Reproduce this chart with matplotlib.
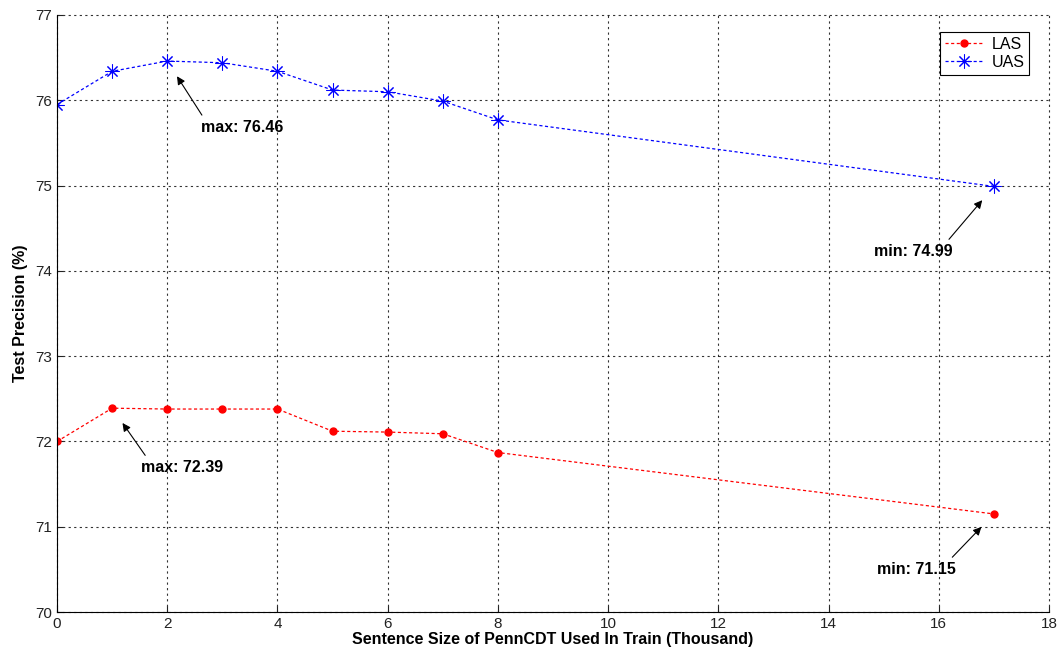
import matplotlib
matplotlib.use("Agg")
import matplotlib.pyplot as plt

plt.rcParams['font.family'] = ['Liberation Sans', 'DejaVu Sans']

# sentence size (thousand)
sizes = [0, 1, 2, 3, 4, 5, 6, 7, 8, 17]
las = [72.00, 72.39, 72.38, 72.38, 72.38, 72.12, 72.11, 72.09, 71.87, 71.15]
uas = [75.95, 76.34, 76.46, 76.44, 76.34, 76.12, 76.10, 75.99, 75.77, 74.99]

fig = plt.figure(figsize=(10.62, 6.52), dpi=100)
ax = fig.add_axes([0.0537, 0.0613, 0.9341, 0.9157])

ax.plot(sizes, las, color='red', linestyle=(0, (2.5, 2)), linewidth=0.9,
        marker='o', markersize=5, markerfacecolor='red', markeredgecolor='red', label='LAS')
ax.plot(sizes, uas, color='blue', linestyle=(0, (2.5, 2)), linewidth=0.9,
        marker=(8, 2, 0), markersize=10, markeredgewidth=0.75,
        markeredgecolor='blue', label='UAS')

ax.set_xlim(0, 18)
ax.set_ylim(70, 77)
ax.set_xticks(range(0, 19, 2))
ax.set_yticks(range(70, 78))
ax.grid(True, color='black', linestyle=(0, (2, 3)), linewidth=0.8, alpha=0.8)
for gl in ax.get_xgridlines() + ax.get_ygridlines():
    gl.set_clip_on(False)
ax.tick_params(direction='in', labelsize=11, length=4, colors='#222222')
for side in ['top', 'right']:
    ax.spines[side].set_visible(False)
for side in ['left', 'bottom']:
    ax.spines[side].set_linewidth(0.8)

ax.set_xlabel('Sentence Size of PennCDT Used In Train (Thousand)', fontsize=11.5,
              fontweight='bold', labelpad=1)
ax.set_ylabel('Test Precision (%)', fontsize=11.5, fontweight='bold', labelpad=5)

leg = ax.legend(loc='upper right', fontsize=11.5, fancybox=False, framealpha=1,
                edgecolor='black', bbox_to_anchor=(0.988, 0.985), handlelength=2.4,
                handletextpad=0.5, borderpad=0.3, labelspacing=0.2)
leg.get_frame().set_linewidth(0.8)

arrow = dict(arrowstyle='-|>', color='black', lw=0.8, mutation_scale=12, shrinkB=13)

# max / min annotations
i = uas.index(max(uas))
ax.annotate('max: %.2f' % uas[i], xy=(sizes[i], uas[i]), xytext=(54, -48),
            textcoords='offset points', ha='center', va='center', fontsize=11.5,
            fontweight='bold', arrowprops=dict(arrow, relpos=(0.05, 1.0)))
i = uas.index(min(uas))
ax.annotate('min: %.2f' % uas[i], xy=(sizes[i], uas[i]), xytext=(-58, -47),
            textcoords='offset points', ha='center', va='center', fontsize=11.5,
            fontweight='bold', arrowprops=dict(arrow, relpos=(0.9, 1.0)))
i = las.index(max(las))
ax.annotate('max: %.2f' % las[i], xy=(sizes[i], las[i]), xytext=(50, -43),
            textcoords='offset points', ha='center', va='center', fontsize=11.5,
            fontweight='bold', arrowprops=dict(arrow, relpos=(0.1, 1.0)))
i = las.index(min(las))
ax.annotate('min: %.2f' % las[i], xy=(sizes[i], las[i]), xytext=(-56, -40),
            textcoords='offset points', ha='center', va='center', fontsize=11.5,
            fontweight='bold', arrowprops=dict(arrow, relpos=(0.9, 1.0)))

fig.savefig('out.png', dpi=100)
